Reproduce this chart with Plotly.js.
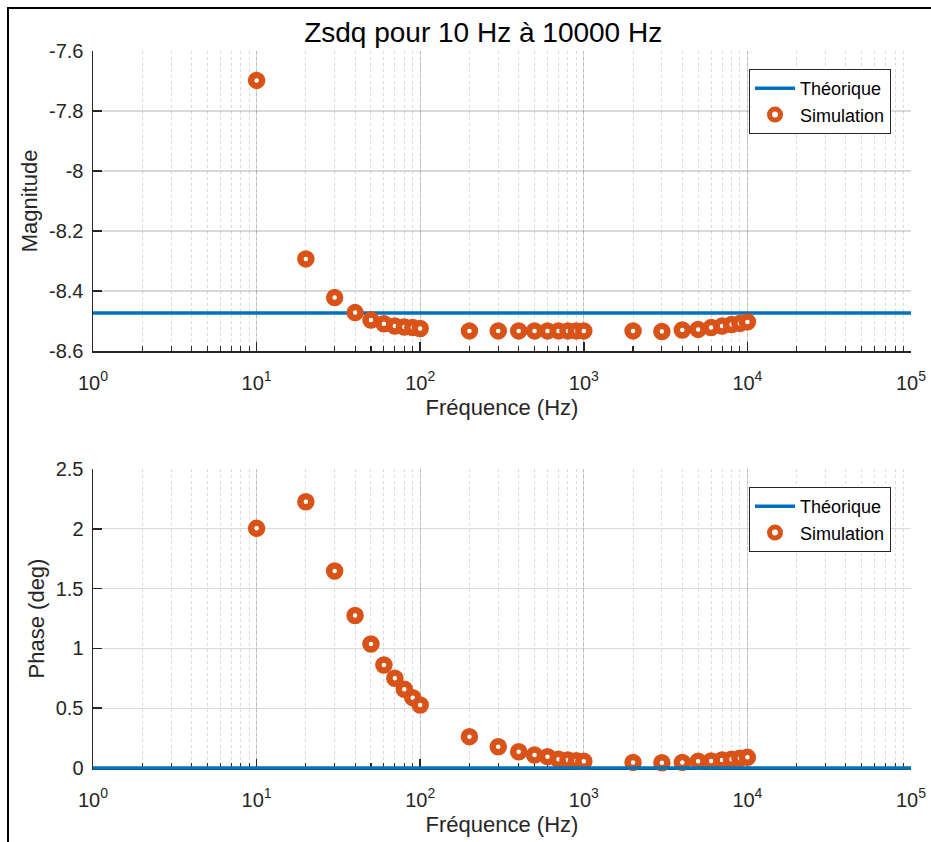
<!DOCTYPE html>
<html>
<head>
<meta charset="utf-8">
<script src="https://cdn.plot.ly/plotly-3.0.1.min.js"></script>
<style>
  html, body { margin: 0; padding: 0; background: #fff; overflow: hidden; }
  #chart { width: 931px; height: 842px; }
  #frame { position: absolute; left: 7px; top: 7px; width: 2000px; height: 2000px;
           border-left: 2px solid #000; border-top: 2px solid #000; pointer-events: none; }
</style>
</head>
<body>
<div id="chart"></div>
<div id="frame"></div>
<script>
// ---- Data ----
const freqSim = [10, 20, 30, 40, 50, 60, 70, 80, 90, 100,
                 200, 300, 400, 500, 600, 700, 800, 900, 1000,
                 2000, 3000, 4000, 5000, 6000, 7000, 8000, 9000, 10000];
const magSim = [-7.698, -8.293, -8.422, -8.472, -8.497, -8.509, -8.517, -8.520, -8.522, -8.525,
                -8.533, -8.533, -8.533, -8.533, -8.533, -8.533, -8.533, -8.533, -8.533,
                -8.533, -8.535, -8.530, -8.528, -8.522, -8.517, -8.512, -8.508, -8.503];
const phaseSim = [2.004, 2.226, 1.647, 1.275, 1.037, 0.861, 0.750, 0.658, 0.588, 0.527,
                  0.262, 0.178, 0.136, 0.109, 0.095, 0.073, 0.067, 0.061, 0.056,
                  0.047, 0.044, 0.047, 0.056, 0.059, 0.067, 0.073, 0.081, 0.089];
const freqTheo = [1, 100000];
const magTheo = [-8.473, -8.473];
const phaseTheo = [0, 0];

const xTickVals = [1, 10, 100, 1000, 10000, 100000];
const xTickText = ['10<sup>0</sup>', '10<sup>1</sup>', '10<sup>2</sup>', '10<sup>3</sup>', '10<sup>4</sup>', '10<sup>5</sup>'];
const magTickVals = [-8.6, -8.4, -8.2, -8.0, -7.8, -7.6];
const magTickText = ['-8.6', '-8.4', '-8.2', '-8', '-7.8', '-7.6'];
const phaseTickVals = [0, 0.5, 1, 1.5, 2, 2.5];
const phaseTickText = ['0', '0.5', '1', '1.5', '2', '2.5'];

const titleText = 'Zsdq pour 10 Hz à 10000 Hz';
const xTitle = 'Fréquence (Hz)';
const magTitle = 'Magnitude';
const phaseTitle = 'Phase (deg)';
const theoName = 'Théorique';
const simName = 'Simulation';

// ---- Styles ----
const BLUE = '#0072BD';
const ORANGE = '#D95319';
const FONT = 'Liberation Sans, Arial, Helvetica, sans-serif';
const AX = '#262626';
const GRID = 'rgba(38,38,38,0.17)';
const MGRID = 'rgba(38,38,38,0.17)';

// plot area: 51px .. 778px (727px tall)
const PH = 727;
const magDomain = [(778 - 351) / PH, 1];
const phaseDomain = [(778 - 768) / PH, (778 - 469) / PH];
// thin helper strip centred on the phase zero line so the thick line is not clipped
const stripDomain = [0, 20 / PH];
const pxPerUnit = 299 / 2.5;
const stripRange = [-10 / pxPerUnit, 10 / pxPerUnit];

const simMarker = { symbol: 'circle', size: 11, color: '#ffffff', line: { color: ORANGE, width: 6.5 } };

const traces = [
  { x: freqTheo, y: magTheo, xaxis: 'x', yaxis: 'y', mode: 'lines', name: theoName,
    line: { color: BLUE, width: 3.5 }, legend: 'legend' },
  { x: freqSim, y: magSim, xaxis: 'x', yaxis: 'y', mode: 'markers', name: simName,
    marker: simMarker, legend: 'legend', cliponaxis: false },
  { x: freqTheo, y: phaseTheo, xaxis: 'x3', yaxis: 'y3', mode: 'lines', name: theoName,
    line: { color: BLUE, width: 3.5 }, legend: 'legend2' },
  { x: freqSim, y: phaseSim, xaxis: 'x2', yaxis: 'y2', mode: 'markers', name: simName,
    marker: simMarker, legend: 'legend2', cliponaxis: false }
];

function xAxis(anchor) {
  return {
    type: 'log', range: [0, 5], anchor: anchor,
    tickmode: 'array', tickvals: xTickVals, ticktext: xTickText,
    ticks: 'inside', ticklen: 9, tickwidth: 1.5, tickcolor: AX,
    showline: true, linecolor: AX, linewidth: 1.5, mirror: false,
    showgrid: true, gridcolor: GRID, gridwidth: 1.3,
    zeroline: false, layer: 'below traces',
    minor: { dtick: 'D1', ticks: 'inside', ticklen: 5, tickwidth: 1.1, tickcolor: AX,
             showgrid: true, gridcolor: MGRID, griddash: 'dot', gridwidth: 1 },
    tickfont: { family: FONT, size: 20, color: AX },
    title: { text: xTitle, font: { family: FONT, size: 22, color: AX }, standoff: 7 },
    ticklabelstandoff: 13
  };
}
function yAxis(anchor, domain, range, vals, text, title) {
  return {
    domain: domain, range: range, anchor: anchor,
    tickmode: 'array', tickvals: vals, ticktext: text,
    ticks: 'inside', ticklen: 9, tickwidth: 1.5, tickcolor: AX,
    showline: true, linecolor: AX, linewidth: 1.5, mirror: false,
    showgrid: true, gridcolor: GRID, gridwidth: 1.3,
    zeroline: false, layer: 'below traces',
    tickfont: { family: FONT, size: 20, color: AX },
    title: { text: title, font: { family: FONT, size: 22, color: AX }, standoff: 5 },
    ticklabelstandoff: 4
  };
}

const legendBase = {
  xanchor: 'right', yanchor: 'top', x: (891 - 93) / 818,
  bgcolor: '#ffffff', bordercolor: AX, borderwidth: 1,
  font: { family: FONT, size: 18, color: '#000' },
  tracegroupgap: 0, itemwidth: 40
};

const layout = {
  width: 931, height: 842,
  margin: { l: 93, r: 20, t: 51, b: 842 - 778 },
  paper_bgcolor: '#ffffff', plot_bgcolor: 'rgba(0,0,0,0)',
  showlegend: true,
  title: { text: titleText, font: { family: FONT, size: 28, color: '#000' },
           x: 0.519, xanchor: 'center', y: 0.962, yanchor: 'middle' },
  xaxis: xAxis('y'),
  yaxis: yAxis('x', magDomain, [-8.6, -7.6], magTickVals, magTickText, magTitle),
  xaxis2: xAxis('y2'),
  yaxis2: yAxis('x2', phaseDomain, [0, 2.5], phaseTickVals, phaseTickText, phaseTitle),
  xaxis3: { type: 'log', range: [0, 5], anchor: 'y3', visible: false, showgrid: false, zeroline: false },
  yaxis3: { domain: stripDomain, range: stripRange, anchor: 'x3', visible: false, showgrid: false, zeroline: false },
  legend: Object.assign({}, legendBase, { y: (778 - 69) / PH }),
  legend2: Object.assign({}, legendBase, { y: (778 - 487) / PH })
};

Plotly.newPlot('chart', traces, layout, { displayModeBar: false, staticPlot: true });
</script>
</body>
</html>
